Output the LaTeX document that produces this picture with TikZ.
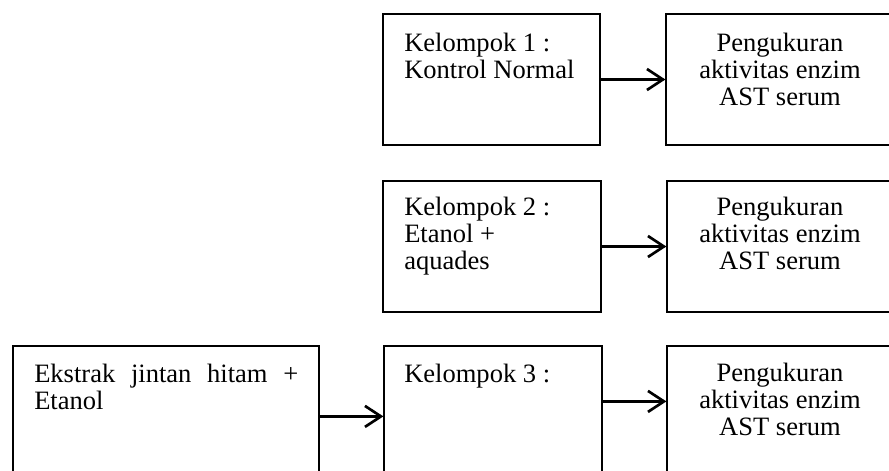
\documentclass[tikz,border=0pt]{standalone}
\usepackage{fontspec}
\setmainfont{Liberation Serif}
\usetikzlibrary{arrows.meta}
\tikzset{
  box/.style={draw, line width=0.9pt, inner sep=0pt, minimum height=98.25pt},
  txt/.style={inner sep=0pt, anchor=base west, font=\fontsize{19.9pt}{20.25pt}\selectfont},
  ctxt/.style={inner sep=0pt, anchor=base, font=\fontsize{19.9pt}{20.25pt}\selectfont},
  arr/.style={line width=2pt, -{Straight Barb[length=12pt,width=15.75pt,line width=2pt]}}
}
\begin{document}
\begin{tikzpicture}[x=0.75pt,y=-0.75pt]
\useasboundingbox (0,0) rectangle (889,471);
\clip (0,0) rectangle (889,471);
% boxes
\node[box, minimum width=162.75pt] (k1) at (491.5,79.5) {};
\node[box, minimum width=163.5pt] (k2) at (492,246.5) {};
\node[box, minimum width=163.5pt] (k3) at (493,411.5) {};
\node[box, minimum width=171pt] (p1) at (780,79.5) {};
\node[box, minimum width=170.25pt] (p2) at (780.5,246.5) {};
\node[box, minimum width=170.25pt] (p3) at (780.5,411.5) {};
\node[box, minimum width=229.5pt] (e) at (166,411.5) {};
% texts
\node[txt] (tk1) at (404,51) {\parbox[t]{150pt}{\raggedright Kelompok 1 :\\Kontrol Normal}};
\node[txt] (tk2) at (404,215) {\parbox[t]{150pt}{\raggedright Kelompok 2 :\\Etanol +\\aquades}};
\node[txt] (tk3) at (404,382) {\parbox[t]{150pt}{\raggedright Kelompok 3 :}};
\node[ctxt] (tp1) at (780,51) {\parbox[t]{160pt}{\centering Pengukuran\\aktivitas enzim\\AST serum}};
\node[ctxt] (tp2) at (780,215) {\parbox[t]{160pt}{\centering Pengukuran\\aktivitas enzim\\AST serum}};
\node[ctxt] (tp3) at (780,381) {\parbox[t]{160pt}{\centering Pengukuran\\aktivitas enzim\\AST serum}};
\node[txt] (te) at (34,382) {\parbox[t]{198pt}{Ekstrak jintan hitam +\linebreak Etanol}};
% connectors
\draw[arr] (k1.east) -- (p1.west);
\draw[arr] (k2.east) -- (p2.west);
\draw[arr] ([yshift=-53.25pt]e.north east) -- ([yshift=-53.25pt]k3.north west);
\draw[arr] ([yshift=-42pt]k3.north east) -- ([yshift=-42pt]p3.north west);
\end{tikzpicture}
\end{document}
